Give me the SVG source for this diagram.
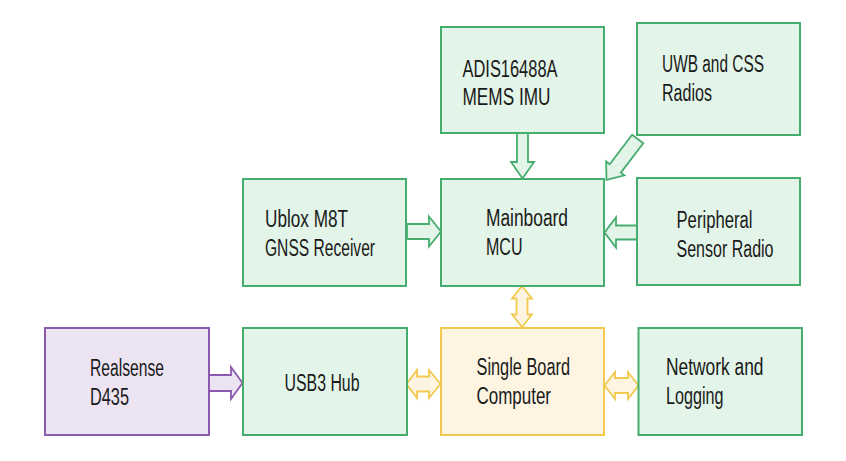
<svg xmlns="http://www.w3.org/2000/svg" width="846" height="461" viewBox="0 0 846 461">
<style>
.g{fill:#e3f4e8;stroke:#47ad6e;stroke-width:2}
.p{fill:#ede4f3;stroke:#8b5aae;stroke-width:2}
.y{fill:#fdf5e2;stroke:#f2c94c;stroke-width:2}
.ga{fill:#e3f4e8;stroke:#47ad6e;stroke-width:1.8;stroke-linejoin:miter}
.pa{fill:#ede4f3;stroke:#8b5aae;stroke-width:1.8}
.ya{fill:#fdf5e2;stroke:#f2c94c;stroke-width:1.8}
text{font-family:"Liberation Sans",Arial,sans-serif;font-size:23.5px;fill:#1a1a1a}
</style>
<rect width="846" height="461" fill="#ffffff"/>
<g id="connectors">
<polygon class="ga" points="517,133 528,133 528,162 534,162 522.5,178.5 511,162 517,162"/>
<polygon class="ga" points="407,224 429,224 429,216.5 441,231.5 429,246.5 429,239 407,239"/>
<polygon class="ga" points="637,225.5 616,225.5 616,217.5 604.5,232.5 616,247.5 616,239.5 637,239.5"/>
<polygon class="ga" transform="translate(637.7,139) rotate(127.3)" points="0,-7 37,-7 37,-11.5 51.5,0 37,11.5 37,7 0,7"/>
<polygon class="ya" points="522,286 532,298.5 527.5,298.5 527.5,314.5 532,314.5 522,327 512,314.5 516.5,314.5 516.5,298.5 512,298.5"/>
<polygon class="pa" points="209,375 231,375 231,367 242.5,383 231,399 231,391 209,391"/>
<polygon class="ya" points="406.5,384 417,370 417,376.5 429,376.5 429,370 440.5,384 429,398 429,391.5 417,391.5 417,398"/>
<polygon class="ya" points="604.5,385.5 615,372 615,378 628,378 628,372 638.5,385.5 628,399 628,393 615,393 615,399"/>
</g>
<g id="adis">
<rect class="g" x="441" y="27" width="163" height="106"/>
<text x="462.5" y="77" textLength="95" lengthAdjust="spacingAndGlyphs">ADIS16488A</text>
<text x="462.5" y="105" textLength="88" lengthAdjust="spacingAndGlyphs">MEMS IMU</text>
</g>
<g id="uwb">
<rect class="g" x="637" y="23" width="163" height="112"/>
<text x="662" y="72" textLength="102" lengthAdjust="spacingAndGlyphs">UWB and CSS</text>
<text x="662" y="101" textLength="50" lengthAdjust="spacingAndGlyphs">Radios</text>
</g>
<g id="ublox">
<rect class="g" x="243" y="179" width="163" height="107"/>
<text x="265" y="227" textLength="83" lengthAdjust="spacingAndGlyphs">Ublox M8T</text>
<text x="265" y="256" textLength="110" lengthAdjust="spacingAndGlyphs">GNSS Receiver</text>
</g>
<g id="mainboard">
<rect class="g" x="441" y="179" width="163" height="107"/>
<text x="486" y="226" textLength="82" lengthAdjust="spacingAndGlyphs">Mainboard</text>
<text x="486" y="255" textLength="36.5" lengthAdjust="spacingAndGlyphs">MCU</text>
</g>
<g id="peripheral">
<rect class="g" x="637" y="178" width="163" height="107"/>
<text x="676.5" y="228" textLength="76" lengthAdjust="spacingAndGlyphs">Peripheral</text>
<text x="676.5" y="257" textLength="97" lengthAdjust="spacingAndGlyphs">Sensor Radio</text>
</g>
<g id="realsense">
<rect class="p" x="45" y="328" width="164" height="107"/>
<text x="90" y="376" textLength="74" lengthAdjust="spacingAndGlyphs">Realsense</text>
<text x="90" y="405" textLength="39" lengthAdjust="spacingAndGlyphs">D435</text>
</g>
<g id="usb3hub">
<rect class="g" x="243" y="328" width="164" height="107"/>
<text x="284.5" y="391" textLength="75" lengthAdjust="spacingAndGlyphs">USB3 Hub</text>
</g>
<g id="sbc">
<rect class="y" x="441" y="328" width="163" height="107"/>
<text x="476.5" y="375" textLength="93.5" lengthAdjust="spacingAndGlyphs">Single Board</text>
<text x="476.5" y="404" textLength="74.5" lengthAdjust="spacingAndGlyphs">Computer</text>
</g>
<g id="network">
<rect class="g" x="638.5" y="328" width="163.5" height="107"/>
<text x="666" y="375" textLength="97.5" lengthAdjust="spacingAndGlyphs">Network and</text>
<text x="666" y="404" textLength="57.5" lengthAdjust="spacingAndGlyphs">Logging</text>
</g>
</svg>
